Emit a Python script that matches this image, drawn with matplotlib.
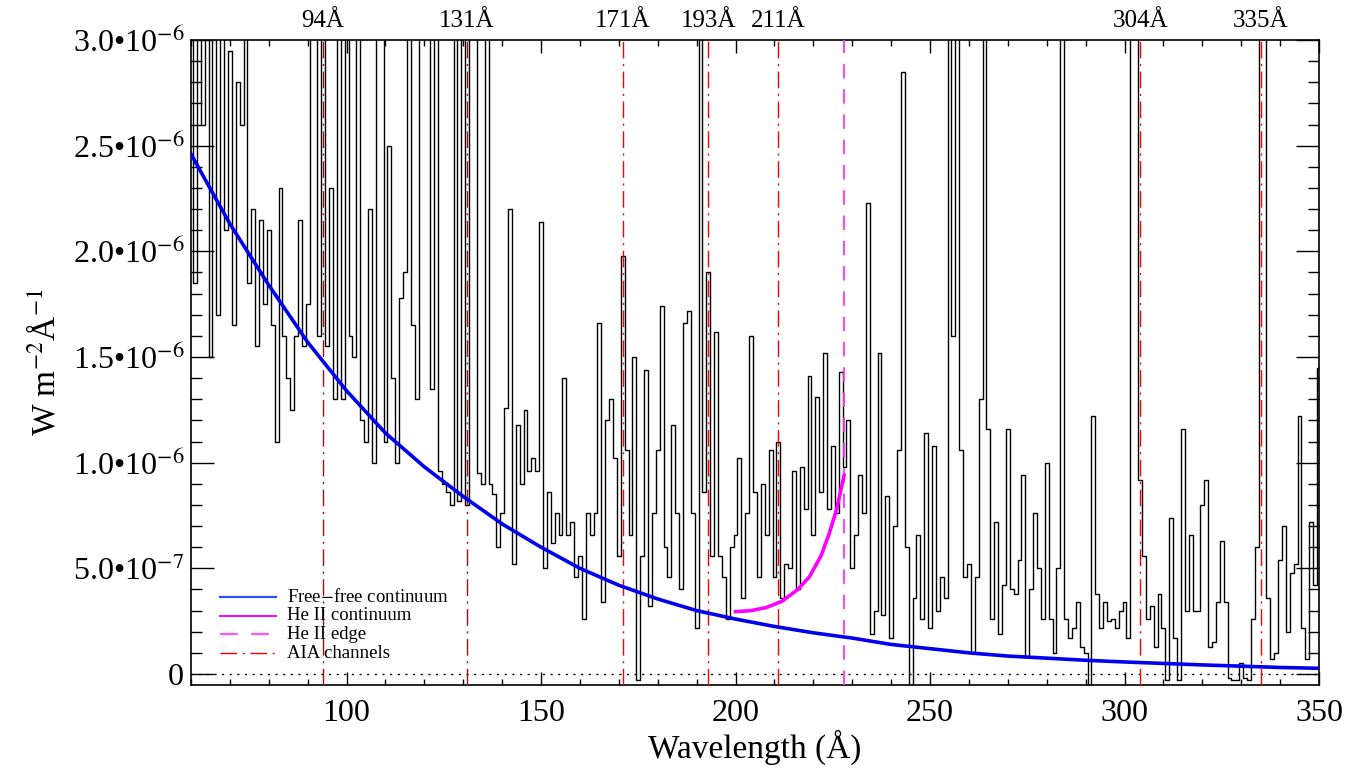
import matplotlib
matplotlib.use("Agg")
import matplotlib.pyplot as plt
import matplotlib.transforms as mtransforms
import numpy as np
from matplotlib.ticker import FixedLocator, MultipleLocator

plt.rcParams["font.family"] = ["Liberation Serif", "DejaVu Serif"]
plt.rcParams["mathtext.fontset"] = "stix"

# spectrum, 1 A bins, units of 1e-6 W m^-2 A^-1 (4.0 = off the top)
WAVE = np.arange(60, 351)
FLUX = [
    4.0, 1.85, 4.0, 2.6, 4.0, 1.5, 4.0, 1.7, 4.0, 2.1,        # 60-69
    2.95, 1.65, 2.8, 2.6, 4.0, 1.85, 2.2, 1.55, 2.15, 1.75,   # 70-79
    2.1, 1.65, 1.1, 2.3, 1.6, 1.4, 1.25, 1.6, 2.15, 1.55,     # 80-89
    1.75, 4.0, 4.0, 1.6, 4.0, 1.55, 2.3, 1.3, 4.0, 1.3,       # 90-99
    4.0, 1.6, 1.5, 4.0, 1.2, 1.1, 2.2, 1.0, 4.0, 4.0,         # 100-109
    1.1, 2.5, 1.4, 1.0, 1.78, 1.9, 4.0, 1.65, 1.3, 4.0,       # 110-119
    4.0, 4.0, 1.35, 4.0, 0.96, 0.9, 0.86, 0.8, 4.0, 0.82,     # 120-129
    4.0, 0.8, 4.0, 4.0, 0.95, 0.9, 4.0, 0.9, 0.85, 0.6,       # 130-139
    0.76, 1.26, 2.2, 0.52, 1.18, 0.9, 1.25, 0.96, 1.02, 0.96, # 140-149
    2.14, 0.5, 0.86, 0.62, 0.76, 0.66, 1.4, 0.66, 0.72, 0.46, # 150-159
    0.56, 0.26, 0.76, 0.66, 0.76, 1.66, 0.34, 1.2, 1.3, 1.02, # 160-169
    0.56, 1.98, 1.06, 0.66, 1.5, -0.03, 0.56, 1.44, 0.32, 0.76,  # 170-179
    1.06, 1.74, 0.6, 0.46, 1.18, 0.76, 0.4, 1.66, 1.72, 0.76, # 180-189
    0.22, 4.0, 0.86, 1.9, 0.56, 1.62, 0.56, 0.46, 0.26, 0.6,  # 190-199
    0.66, 1.02, 0.36, 0.76, 1.6, 0.86, 0.46, 0.9, 0.66, 1.06, # 200-209
    0.46, 1.1, 0.36, 0.52, 0.5, 0.96, 0.4, 0.98, 0.78, 1.41,  # 210-219
    0.66, 1.31, 0.86, 1.52, 0.78, 1.08, 0.76, 1.43, 0.98, 1.2,  # 220-229
    0.5, 0.66, 0.94, 0.76, 2.23, 0.19, 0.3, 1.52, 0.28, 0.84, # 230-239
    0.17, 0.7, 1.06, 2.85, 0.6, -0.05, 0.36, 0.66, 0.26, 1.14,  # 240-249
    0.22, 1.08, 0.3, 0.46, 0.36, 4.0, 1.6, 4.0, 1.06, 0.46,   # 250-259
    0.52, 0.1, 0.46, 1.3, 4.0, 1.16, 0.26, 0.72, 0.19, 0.42,  # 260-269
    1.16, 0.4, 0.38, 0.54, 0.94, 0.08, 0.4, 0.76, 0.5, 0.26,  # 270-279
    1.0, 0.26, 0.1, 0.5, 4.0, 0.26, 0.17, 0.22, 0.34, 0.13,   # 280-289
    0.1, -0.05, 1.22, 0.38, 0.22, 0.34, 0.25, 0.26, 0.22, 0.3,  # 290-299
    0.34, 0.17, 4.0, 4.0, 0.92, 0.56, 0.26, 0.32, 0.13, 0.38, # 300-309
    0.22, -0.03, 0.74, 0.17, -0.03, 1.16, 0.3, 0.66, 0.3, 0.3,  # 310-319
    0.8, 0.92, 0.13, 0.15, 0.34, 0.63, 0.34, -0.02, -0.03, -0.03,  # 320-329
    0.05, -0.02, -0.03, 0.26, 0.6, 4.0, 4.0, 0.36, 0.07, 0.1, # 330-339
    0.54, 0.7, 0.2, 0.48, 0.52, 1.22, 0.22, 0.07, 0.72, 0.42, # 340-349
    1.45,                                                     # 350
]

FF_WAVE = [60, 70, 80, 90, 100, 110, 120, 130, 140, 150, 160, 170, 180, 190,
           200, 210, 220, 230, 240, 250, 260, 270, 280, 290, 300, 310, 320,
           330, 340, 350]
FF_FLUX = [2.46, 2.13, 1.84, 1.57, 1.34, 1.14, 0.98, 0.84, 0.71, 0.60, 0.50,
           0.42, 0.355, 0.30, 0.26, 0.225, 0.195, 0.17, 0.14, 0.12, 0.10,
           0.085, 0.075, 0.065, 0.057, 0.05, 0.043, 0.037, 0.031, 0.027]

HE_WAVE = [200, 204, 208, 212, 216, 219, 222, 224, 226, 227.9]
HE_FLUX = [0.295, 0.30, 0.315, 0.345, 0.40, 0.46, 0.56, 0.66, 0.78, 0.94]
HE_EDGE = 227.9

AIA_WAVE = [94, 131, 171, 193, 211, 304, 335]
AIA_LABELS = ["94Å", "131Å", "171Å", "193Å", "211Å", "304Å", "335Å"]
AIA_COLORS = ["#a01010", "#a01010", "#ff0000", "#ff0000", "#ff0000", "#ff0000", "#ff0000"]

YTICKS = [0.0, 0.5, 1.0, 1.5, 2.0, 2.5, 3.0]
YTICK_LABELS = ["0", "5.0•10$^{-7}$", "1.0•10$^{-6}$", "1.5•10$^{-6}$",
                "2.0•10$^{-6}$", "2.5•10$^{-6}$", "3.0•10$^{-6}$"]

LEGEND = [
    ("Free$-$free continuum", dict(color="#3050ff", lw=1.6, ls="-")),
    ("He II continuum", dict(color="#ff00ff", lw=1.4, ls="-")),
    ("He II edge", dict(color="#ff55ff", lw=1.6, ls=(0, (8, 6)))),
    ("AIA channels", dict(color="#ff0000", lw=1.0, ls=(0, (12, 4, 1.5, 4)))),
]

fig = plt.figure(figsize=(13.58, 7.72), dpi=100)
ax = fig.add_axes([191 / 1358, 87 / 772, 1128 / 1358, 645 / 772])

ax.step(WAVE, FLUX, where="mid", color="black", lw=1.0, zorder=2)
ax.axhline(0, color="black", lw=1.0, ls=(0, (1.5, 4)), zorder=1)

for w, c in zip(AIA_WAVE, AIA_COLORS):
    ax.axvline(w, color=c, lw=1.0, ls=(0, (12, 4, 1.5, 4)), zorder=3)
ax.axvline(HE_EDGE, color="#ff33ff", lw=1.3, ls=(0, (8, 6)), zorder=3)

ax.plot(FF_WAVE, FF_FLUX, color="#0000ee", lw=2.6, zorder=4)
ax.plot(HE_WAVE, HE_FLUX, color="#ff00ff", lw=2.6, zorder=4)

trans = mtransforms.blended_transform_factory(ax.transData, ax.transAxes)
for w, lab in zip(AIA_WAVE, AIA_LABELS):
    ax.text(w, 1.012, lab, transform=trans, ha="center", va="bottom", fontsize=18)

# legend drawn in axes coordinates
for i, (lab, style) in enumerate(LEGEND):
    yy = 0.1364 - i * 0.029
    ax.plot([0.0257, 0.0754], [yy, yy], transform=ax.transAxes, zorder=5, **style)
    ax.text(0.0851, yy, lab, transform=ax.transAxes, va="center", ha="left", fontsize=13.5)

ax.set_xlim(60, 350)
ax.set_ylim(-0.052, 3.0)
ax.xaxis.set_major_locator(MultipleLocator(50))
ax.xaxis.set_minor_locator(MultipleLocator(10))
ax.yaxis.set_major_locator(FixedLocator(YTICKS))
ax.yaxis.set_minor_locator(MultipleLocator(0.1))
ax.set_yticklabels(YTICK_LABELS)

ax.tick_params(which="both", direction="in", top=True, right=True, labelsize=23, width=1.0)
ax.tick_params(axis="x", which="major", length=9.5, pad=10)
ax.tick_params(axis="x", which="minor", length=4.5)
ax.tick_params(axis="y", which="major", length=16.5, pad=5)
ax.tick_params(axis="y", which="minor", length=8)
for sp in ax.spines.values():
    sp.set_linewidth(1.2)

ax.set_xlabel("Wavelength (Å)", fontsize=24, labelpad=1)
ax.set_ylabel("W m$^{-2}$Å$^{-1}$", fontsize=24, labelpad=8)

fig.savefig("out.png", dpi=100)
